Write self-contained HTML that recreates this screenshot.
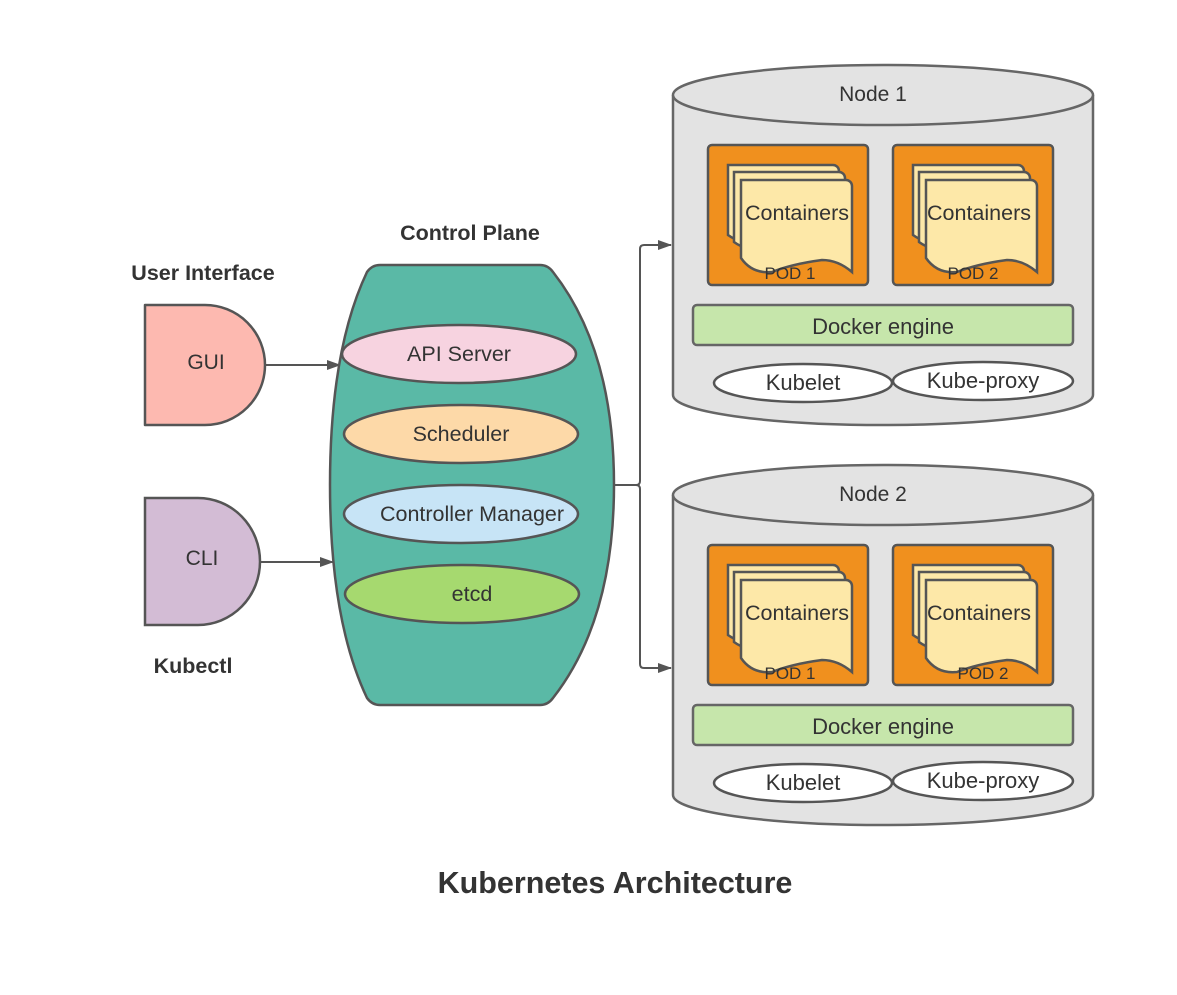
<!DOCTYPE html>
<html><head><meta charset="utf-8"><style>
body{margin:0;background:#fff}
svg{display:block}
text{font-family:"Liberation Sans",sans-serif;fill:#333}
</style></head><body>
<svg width="1177" height="995" viewBox="0 0 1177 995" xmlns="http://www.w3.org/2000/svg">
<defs>
<marker id="ar" markerWidth="14" markerHeight="10" refX="13" refY="5" orient="auto" markerUnits="userSpaceOnUse"><path d="M0,0 L14,5 L0,10 Z" fill="#555"/></marker>
<g id="doc">
<path d="M0,0 h105 a6,6 0 0 1 6,6 v72 q-14,-8 -30,-6 q-30,6 -50,8 q-20,-2 -31,-10 Z" fill="#fde8a8" stroke="#555" stroke-width="2.5"/>
</g>
<g id="pod">
<rect x="0" y="0" width="160" height="140" rx="4" fill="#f0901e" stroke="#555" stroke-width="2.5"/>
<use href="#doc" x="20" y="20"/>
<use href="#doc" x="26" y="27"/>
<path d="M33,35 h105 a6,6 0 0 1 6,6 v86 q-14,-12 -30,-12 q-30,4 -50,12 q-20,2 -31,-14 Z" fill="#fde8a8" stroke="#555" stroke-width="2.5"/>
</g>
<g id="node">
<path d="M0,30 L0,330 A210,30 0 0 0 420,330 L420,30" fill="#e3e3e3" stroke="#666" stroke-width="2.5"/>
<ellipse cx="210" cy="30" rx="210" ry="30" fill="#e3e3e3" stroke="#666" stroke-width="2.5"/>
<use href="#pod" x="35" y="80"/>
<use href="#pod" x="220" y="80"/>
<text x="124" y="155" font-size="21.5" text-anchor="middle">Containers</text>
<text x="306" y="155" font-size="21.5" text-anchor="middle">Containers</text>
<rect x="20" y="240" width="380" height="40" rx="4" fill="#c6e6ab" stroke="#666" stroke-width="2.5"/>
<text x="210" y="269" font-size="22" text-anchor="middle">Docker engine</text>
<ellipse cx="130" cy="318" rx="89" ry="19" fill="#fff" stroke="#555" stroke-width="2.5"/>
<ellipse cx="310" cy="316" rx="90" ry="19" fill="#fff" stroke="#555" stroke-width="2.5"/>
<text x="130" y="325" font-size="22" text-anchor="middle">Kubelet</text>
<text x="310" y="323" font-size="22" text-anchor="middle">Kube-proxy</text>
</g>
</defs>

<text x="470" y="240" font-size="21.5" font-weight="bold" text-anchor="middle">Control Plane</text>
<text x="203" y="280" font-size="21.5" font-weight="bold" text-anchor="middle">User Interface</text>
<text x="193" y="673" font-size="21.5" font-weight="bold" text-anchor="middle">Kubectl</text>

<path d="M145,305 H205 A60,60 0 0 1 205,425 H145 Z" fill="#fdb9b0" stroke="#555" stroke-width="2.5" stroke-linejoin="round"/>
<text x="206" y="369" font-size="21" text-anchor="middle">GUI</text>
<path d="M145,498 H198 A62,63.5 0 0 1 198,625 H145 Z" fill="#d3bcd5" stroke="#555" stroke-width="2.5"/>
<text x="202" y="565" font-size="21" text-anchor="middle">CLI</text>

<line x1="266" y1="365" x2="340" y2="365" stroke="#555" stroke-width="2" marker-end="url(#ar)"/>
<line x1="261" y1="562" x2="333" y2="562" stroke="#555" stroke-width="2" marker-end="url(#ar)"/>

<path d="M380,265 L540,265 Q548,265 553,272 Q614,350 614,485 Q614,620 553,698 Q548,705 540,705 L380,705 Q372,705 367,698 Q330,620 330,485 Q330,350 367,272 Q372,265 380,265 Z" fill="#5ab9a6" stroke="#555" stroke-width="2.5"/>
<ellipse cx="459" cy="354" rx="117" ry="29" fill="#f7d3e0" stroke="#555" stroke-width="2.5"/>
<text x="459" y="361" font-size="21.5" text-anchor="middle">API Server</text>
<ellipse cx="461" cy="434" rx="117" ry="29" fill="#fdd9a8" stroke="#555" stroke-width="2.5"/>
<text x="461" y="441" font-size="21.5" text-anchor="middle">Scheduler</text>
<ellipse cx="461" cy="514" rx="117" ry="29" fill="#c7e4f6" stroke="#555" stroke-width="2.5"/>
<text x="472" y="521" font-size="21.5" text-anchor="middle">Controller Manager</text>
<ellipse cx="462" cy="594" rx="117" ry="29" fill="#a6d96f" stroke="#555" stroke-width="2.5"/>
<text x="472" y="601" font-size="21.5" text-anchor="middle">etcd</text>

<path d="M614,485 H636 Q640,485 640,481 V249 Q640,245 644,245 H671" fill="none" stroke="#555" stroke-width="2" marker-end="url(#ar)"/>
<path d="M636,485 Q640,485 640,489 V664 Q640,668 644,668 H671" fill="none" stroke="#555" stroke-width="2" marker-end="url(#ar)"/>

<use href="#node" x="673" y="65"/>
<use href="#node" x="673" y="465"/>
<text x="873" y="101" font-size="21" text-anchor="middle">Node 1</text>
<text x="873" y="501" font-size="21" text-anchor="middle">Node 2</text>
<text x="790" y="279" font-size="17" text-anchor="middle">POD 1</text>
<text x="973" y="279" font-size="17" text-anchor="middle">POD 2</text>
<text x="790" y="679" font-size="17" text-anchor="middle">POD 1</text>
<text x="983" y="679" font-size="17" text-anchor="middle">POD 2</text>

<text x="615" y="893" font-size="30.5" font-weight="bold" text-anchor="middle">Kubernetes Architecture</text>
</svg>
</body></html>
